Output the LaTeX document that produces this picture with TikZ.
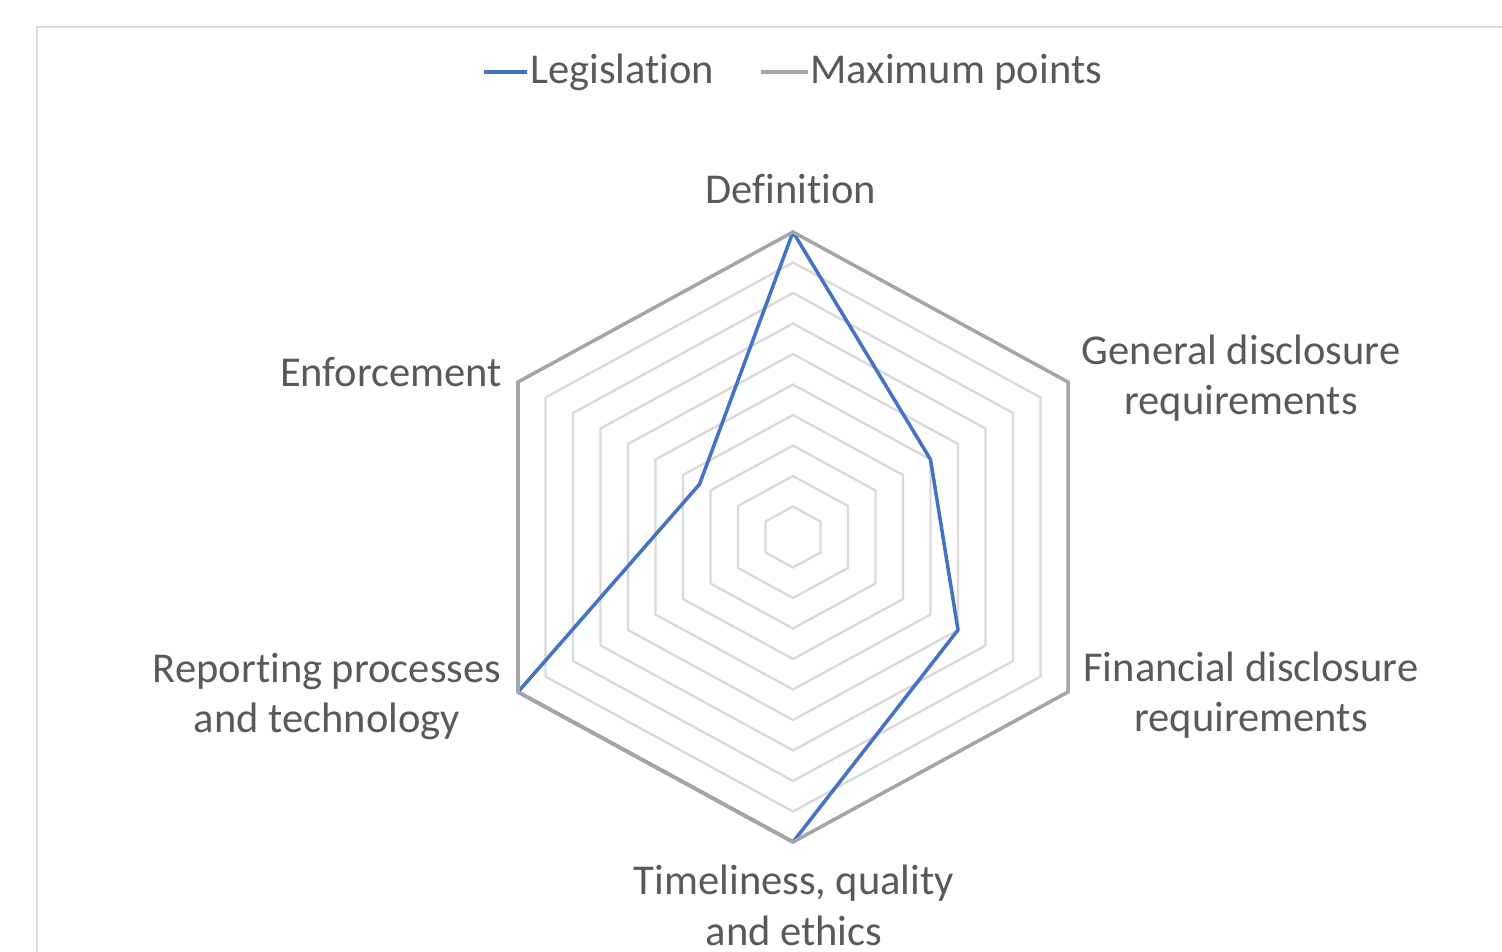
\documentclass[tikz,border=0pt]{standalone}
\usepackage{fontspec}
\setmainfont{Carlito}[Ligatures={NoCommon,NoContextual}]
\definecolor{legblue}{HTML}{4472C4}
\definecolor{maxgray}{HTML}{A5A5A5}
\definecolor{gridgray}{HTML}{D9D9D9}
\definecolor{textgray}{HTML}{595959}

\begin{document}
\begin{tikzpicture}[x=0.02cm,y=-0.02cm,
  axis label/.style={text=textgray,font=\fontsize{24.2}{29}\selectfont,align=center,inner sep=0pt},
  grid line/.style={draw=gridgray,line width=1.3pt},
  max line/.style={draw=maxgray,line width=2pt},
  leg line/.style={draw=legblue,line width=2pt,line join=round}]

\useasboundingbox (0,0) rectangle (1502,952);
\draw[gridgray,line width=1.2pt] (37,952) -- (37,27) -- (1502,27);

% rings 1..9
\foreach \l in {1,...,9}
  \draw[grid line] (793,{537-30.5*\l}) -- ({793+27.5*\l},{537-15.5*\l})
    -- ({793+27.5*\l},{537+15.5*\l}) -- (793,{537+30.5*\l})
    -- ({793-27.5*\l},{537+15.5*\l}) -- ({793-27.5*\l},{537-15.5*\l}) -- cycle;

% outer vertices (maximum points)
\coordinate (def) at (793,232);
\coordinate (gen) at (1068,382);
\coordinate (fin) at (1068,692);
\coordinate (tim) at (793,842);
\coordinate (rep) at (518,692);
\coordinate (enf) at (518,382);

% legislation scores
\coordinate (l-def) at (def);
\coordinate (l-gen) at ({793+27.5*5},{537-15.5*5});
\coordinate (l-fin) at ({793+27.5*6},{537+15.5*6});
\coordinate (l-tim) at (tim);
\coordinate (l-rep) at (rep);
\coordinate (l-enf) at ({793-27.5*3.4},{537-15.5*3.4});

\draw[leg line] (l-def) -- (l-gen) -- (l-fin) -- (l-tim) -- (l-rep) -- (l-enf) -- cycle;
\draw[max line] (def) -- (gen) -- (fin) -- (tim) -- (rep) -- (enf) -- cycle;

% axis labels
\node[axis label,anchor=base] (t-def) at (791,204) {Definition};
\node[axis label,anchor=base] (t-gen) at (1241,415) {General disclosure\\requirements};
\node[axis label,anchor=base] (t-fin) at (1251,732) {Financial disclosure\\requirements};
\node[axis label,anchor=base] (t-tim) at (794,945) {Timeliness, quality\\and ethics};
\node[axis label,anchor=base] (t-rep) at (327,733) {Reporting processes\\and technology};
\node[axis label,anchor=base] (t-enf) at (391,387) {Enforcement};

% legend
\coordinate (k1a) at (484,72);
\coordinate (k1b) at (527,72);
\coordinate (k2a) at (761,72);
\coordinate (k2b) at (808,72);
\draw[leg line] (k1a) -- (k1b);
\node[axis label,anchor=base west] (leg1) at (530,84) {Legislation};
\draw[max line] (k2a) -- (k2b);
\node[axis label,anchor=base west] (leg2) at (810,84) {Maximum points};

\end{tikzpicture}
\end{document}
